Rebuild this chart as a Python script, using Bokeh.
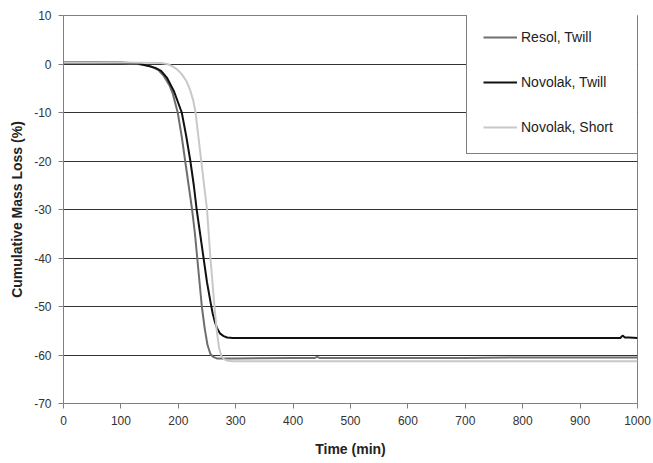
from bokeh.plotting import figure
from bokeh.models import Range1d, Legend, LegendItem, FixedTicker, PrintfTickFormatter
from bokeh.embed import file_html
from bokeh.resources import INLINE

# Data
resol_t = [0, 50, 100, 130, 150, 165, 175, 185, 190, 199, 206, 212, 218, 224, 229, 233, 237, 241, 246, 251, 256, 261, 267, 280, 300, 400, 438, 442, 446, 500, 600, 700, 800, 900, 1000]
resol_v = [0.3, 0.3, 0.2, 0.0, -0.4, -1.2, -2.5, -4.5, -6.0, -10, -15, -20, -25, -30, -35, -40, -45, -50, -54.5, -58, -59.8, -60.4, -60.7, -60.7, -60.7, -60.6, -60.6, -60.4, -60.6, -60.6, -60.6, -60.6, -60.5, -60.5, -60.5]

nov_twill_t = [0, 100, 130, 145, 160, 170, 180, 192, 206, 214, 221, 227, 232, 238, 244, 250, 256, 260, 264, 268, 273, 279, 285, 295, 400, 600, 800, 960, 970, 974, 978, 985, 1000]
nov_twill_v = [0.3, 0.3, 0.1, -0.3, -0.8, -1.4, -2.8, -5.5, -10, -15, -20, -25, -30, -35, -40, -45, -49, -51.5, -53.3, -54.6, -55.6, -56.1, -56.4, -56.5, -56.5, -56.5, -56.5, -56.5, -56.5, -56.0, -56.4, -56.4, -56.5]

nov_short_t = [0, 100, 170, 181, 190, 198, 206, 214, 221, 226, 230, 235, 240, 245, 250, 256, 263, 267, 271, 275, 280, 286, 295, 400, 600, 800, 1000]
nov_short_v = [0.3, 0.3, 0.2, 0.0, -0.5, -1.1, -2.1, -3.5, -5.5, -7.5, -10, -15, -20, -25, -30, -40, -50, -55, -58.5, -60.2, -60.9, -61.2, -61.3, -61.3, -61.3, -61.3, -61.3]

x_ticks = [0, 100, 200, 300, 400, 500, 600, 700, 800, 900, 1000]
y_ticks = [10, 0, -10, -20, -30, -40, -50, -60, -70]

FONT = "Liberation Sans"

p = figure(width=653, height=463, output_backend="svg", toolbar_location=None,
           x_range=Range1d(0, 1000), y_range=Range1d(-70, 10),
           min_border_left=63, min_border_right=16, min_border_top=15, min_border_bottom=60)

p.background_fill_color = "white"
p.border_fill_color = "white"
p.outline_line_color = "#808080"
p.outline_line_width = 1

p.xgrid.grid_line_color = None
p.ygrid.grid_line_color = "#333333"
p.ygrid.grid_line_width = 1
p.ygrid.ticker = FixedTicker(ticks=y_ticks)

p.xaxis.ticker = FixedTicker(ticks=x_ticks)
p.yaxis.ticker = FixedTicker(ticks=y_ticks)
p.yaxis.formatter = PrintfTickFormatter(format="%d")
p.xaxis.formatter = PrintfTickFormatter(format="%d")

for ax in (p.xaxis[0], p.yaxis[0]):
    ax.axis_line_color = "#808080"
    ax.major_tick_line_color = "#808080"
    ax.major_tick_in = 0
    ax.major_tick_out = 5
    ax.minor_tick_line_color = None
    ax.major_label_text_font = FONT
    ax.major_label_text_font_size = "12px"
    ax.major_label_text_color = "#333333"
    ax.axis_label_text_font = FONT
    ax.axis_label_text_font_size = "14px"
    ax.axis_label_text_font_style = "bold"
    ax.axis_label_text_color = "#222222"

p.xaxis.axis_label = "Time (min)"
p.yaxis.axis_label = "Cumulative Mass Loss (%)"
p.xaxis.major_label_standoff = 7
p.xaxis.axis_label_standoff = 13
p.yaxis.major_label_standoff = 7
p.yaxis.axis_label_standoff = 6

r1 = p.line(resol_t, resol_v, line_color="#6e6e6e", line_width=2)
r2 = p.line(nov_twill_t, nov_twill_v, line_color="#111111", line_width=2)
r3 = p.line(nov_short_t, nov_short_v, line_color="#c8c8c8", line_width=2)

legend = Legend(items=[
    LegendItem(label="Resol, Twill", renderers=[r1]),
    LegendItem(label="Novolak, Twill", renderers=[r2]),
    LegendItem(label="Novolak, Short", renderers=[r3]),
], location=(403, 249))
legend.border_line_color = "black"
legend.border_line_width = 1
legend.background_fill_color = "white"
legend.background_fill_alpha = 1
legend.padding = 16
legend.spacing = 25
legend.label_height = 20
legend.glyph_height = 20
legend.glyph_width = 34
legend.label_width = 100
legend.label_standoff = 4
legend.label_text_font = FONT
legend.label_text_font_size = "14px"
legend.label_text_color = "#222222"
legend.margin = 0
p.add_layout(legend, "center")

open("out.html", "w").write(file_html(p, INLINE))
